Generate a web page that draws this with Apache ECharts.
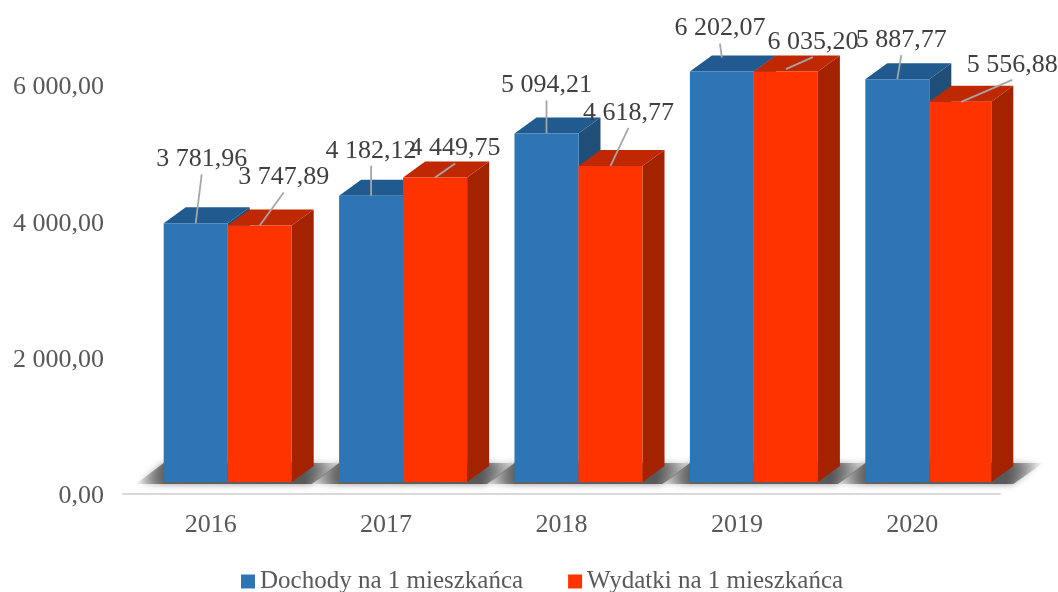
<!DOCTYPE html>
<html>
<head>
<meta charset="utf-8">
<style>html,body{margin:0;padding:0;background:#fff;overflow:hidden}#c{width:1058px;height:592px}</style>
<script src="https://cdn.jsdelivr.net/npm/echarts@6/dist/echarts.min.js"></script>
</head>
<body>
<div id="c"></div>
<script>
const categories = ['2016', '2017', '2018', '2019', '2020'];
const dochody = [3781.96, 4182.12, 5094.21, 6202.07, 5887.77];
const wydatki = [3747.89, 4449.75, 4618.77, 6035.20, 5556.88];
const nameDochody = 'Dochody na 1 mieszkańca';
const nameWydatki = 'Wydatki na 1 mieszkańca';
const yTicks = {min: 0, max: 6000, interval: 2000};

// label placement: leader-line start relative to the bar's top-centre anchor
const leaderDochody = [[6, -49], [0, -30], [0, -33], [-2, -14], [4, -24]];
const leaderWydatki = [[24, -33], [20, -14], [18, -38], [27, -12], [51, -22]];
// the reference's last red bar is drawn slightly narrower
const widthWydatki = [64, 64, 64, 64, 62];

const FONT = '"Liberation Serif", serif';
const BAR_W = 64, DX = 22, DY = -16, OFF_X = 17, OFF_Y = -12, YS = 1.0037;

function fmt(v) {
  const p = v.toFixed(2).split('.');
  return p[0].replace(/\B(?=(\d{3})+(?!\d))/g, ' ') + ',' + p[1];
}

function barItem(side, colors, widths) {
  return function (params, api) {
    const val = api.value(1);
    const base = api.coord([api.value(0), 0]);
    const yBase = base[1] + OFF_Y;
    const xc = base[0] + OFF_X;
    const x0 = side === 0 ? xc - BAR_W : xc;
    const x1 = x0 + (widths ? widths[params.dataIndex] : BAR_W);
    const h0 = base[1] - api.coord([0, Math.min(val, 6000)])[1];
    const yTop = yBase - h0 * YS;
    return {
      type: 'group',
      children: [
        {type: 'polygon', shape: {points: [[x1, yBase], [x1 + DX, yBase + DY], [x1 + DX, yTop + DY], [x1, yTop]]},
          style: {fill: colors.side}},
        {type: 'polygon', shape: {points: [[x0, yTop], [x0 + DX, yTop + DY], [x1 + DX, yTop + DY], [x1, yTop]]},
          style: {fill: colors.top}},
        {type: 'rect', shape: {x: x0, y: yTop, width: x1 - x0, height: yBase - yTop},
          style: {fill: colors.front}}
      ]
    };
  };
}

function labelItem(side, leaders) {
  return function (params, api) {
    const idx = params.dataIndex;
    const val = api.value(1);
    const base = api.coord([api.value(0), 0]);
    const yBase = base[1] + OFF_Y;
    const xc = base[0] + OFF_X;
    const x0 = side === 0 ? xc - BAR_W : xc;
    const hFull = base[1] - api.coord([0, val])[1];
    const yAnchor = yBase - hFull * YS;
    const xA = x0 + BAR_W / 2;
    const off = leaders[idx];
    const ls = [xA + off[0], yAnchor + off[1]];
    return {
      type: 'group',
      children: [
        {type: 'line', shape: {x1: ls[0], y1: ls[1], x2: xA, y2: yAnchor},
          style: {stroke: '#a6a6a6', lineWidth: 1.8}},
        {type: 'text', style: {x: ls[0], y: ls[1] - 15, text: fmt(val), font: '26px ' + FONT,
          fill: '#404040', textAlign: 'center', textVerticalAlign: 'middle'}}
      ]
    };
  };
}

function shadowItem(params, api) {
  const base = api.coord([api.value(0), 0]);
  const yB = base[1] + OFF_Y, xc = base[0] + OFF_X;
  const pts = [[xc - BAR_W - 28, yB + 2], [xc - BAR_W, yB - 19], [xc + BAR_W + 50, yB - 19], [xc + BAR_W + 20, yB + 2]];
  return {
    type: 'polygon', shape: {points: pts},
    style: {
      fill: new echarts.graphic.LinearGradient(0, 0, 1, 0, [
        {offset: 0, color: 'rgba(95,95,95,0)'},
        {offset: 0.14, color: 'rgba(95,95,95,0.95)'},
        {offset: 0.82, color: 'rgba(85,85,85,0.95)'},
        {offset: 1, color: 'rgba(95,95,95,0)'}
      ]),
      shadowBlur: 7, shadowColor: 'rgba(110,110,110,0.8)'
    }
  };
}

const pair = arr => arr.map((v, i) => [i, v]);

const blue = {front: '#2E75B6', top: '#215A8E', side: '#1F4E79'};
const red = {front: '#FF3300', top: '#BF2800', side: '#A32200'};

const chart = echarts.init(document.getElementById('c'), null, {renderer: 'canvas'});
chart.setOption({
  animation: false,
  backgroundColor: '#fff',
  color: [blue.front, red.front],
  grid: {left: 123, right: 58, top: 85, bottom: 98},
  legend: {
    show: true, top: 569, left: 241, itemWidth: 14, itemHeight: 14, itemGap: 45, icon: 'rect', padding: 0,
    data: [nameDochody, nameWydatki],
    textStyle: {fontFamily: FONT, fontSize: 25, color: '#595959'}
  },
  xAxis: {
    type: 'category', data: categories,
    axisLine: {lineStyle: {color: '#D9D9D9', width: 2}},
    axisTick: {show: false},
    axisLabel: {fontFamily: FONT, fontSize: 26, color: '#595959', margin: 18}
  },
  yAxis: {
    type: 'value', min: yTicks.min, max: yTicks.max, interval: yTicks.interval,
    axisLine: {show: false}, axisTick: {show: false}, splitLine: {show: false},
    axisLabel: {fontFamily: FONT, fontSize: 26, color: '#595959', margin: 19, verticalAlign: 'top', lineHeight: 5, formatter: fmt}
  },
  series: [
    {type: 'custom', name: 'cień', data: pair(dochody), renderItem: shadowItem, clip: false, silent: true, z: 1,
      encode: {x: 0, y: 1}},
    {type: 'custom', name: nameDochody, data: pair(dochody), renderItem: barItem(0, blue), clip: false, z: 2,
      itemStyle: {color: blue.front}, encode: {x: 0, y: 1}},
    {type: 'custom', name: nameWydatki, data: pair(wydatki), renderItem: barItem(1, red, widthWydatki), clip: false, z: 3,
      itemStyle: {color: red.front}, encode: {x: 0, y: 1}},
    {type: 'custom', name: 'etykiety D', data: pair(dochody), renderItem: labelItem(0, leaderDochody), clip: false, z: 4,
      encode: {x: 0, y: 1}},
    {type: 'custom', name: 'etykiety W', data: pair(wydatki), renderItem: labelItem(1, leaderWydatki), clip: false, z: 5,
      encode: {x: 0, y: 1}}
  ]
});
</script>
</body>
</html>
